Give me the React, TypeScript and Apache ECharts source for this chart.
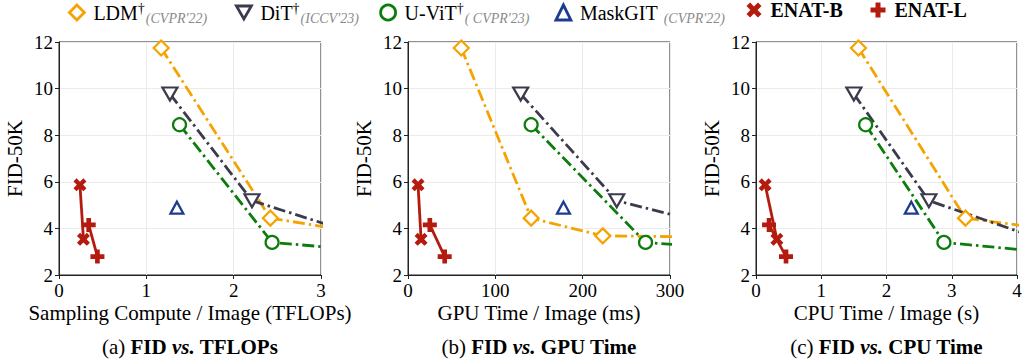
import React, { useEffect, useRef } from "react";
import * as echarts from "echarts";

// ---- data (FID-50K vs cost) ----
const ldmFid = [11.74, 4.44, 3.68, 3.6];
const ldmTflops = [1.17, 2.42, 3.69, 5.1];
const ldmGpuMs = [61, 141, 223, 420];
const ldmCpuS = [1.57, 3.21, 5.27, 6.9];

const ditFid = [9.77, 5.19, 2.27];
const ditTflops = [1.27, 2.21, 4.66];
const ditGpuMs = [129, 239, 547];
const ditCpuS = [1.5, 2.65, 5.68];

const uvitFid = [8.45, 3.4, 2.29];
const uvitTflops = [1.38, 2.44, 5.87];
const uvitGpuMs = [141, 272, 660];
const uvitCpuS = [1.68, 2.88, 7.03];

const maskgitFid = [4.89];
const maskgitTflops = [1.35];
const maskgitGpuMs = [178];
const maskgitCpuS = [2.38];

const enatBFid = [5.87, 3.53];
const enatBTflops = [0.24, 0.28];
const enatBGpuMs = [11.5, 15];
const enatBCpuS = [0.14, 0.32];

const enatLFid = [4.15, 2.79];
const enatLTflops = [0.34, 0.44];
const enatLGpuMs = [25, 42];
const enatLCpuS = [0.2, 0.46];

const xAxisNames = ["Sampling Compute / Image (TFLOPs)", "GPU Time / Image (ms)", "CPU Time / Image (s)"];
const xMax = [3, 300, 4];
const xInterval = [1, 100, 1];
const captionLetters = ["(a) ", "(b) ", "(c) "];
const captionTitles = ["TFLOPs", "GPU Time", "CPU Time"];

const FONT = "Liberation Serif";
const ORANGE = "#f5a300";
const DARK = "#3b3b4d";
const GREEN = "#0b7d0b";
const BLUE = "#1d3c8f";
const RED = "#b51a0e";

const PLUS = "path://M3.33,0H6.67V3.33H10V6.67H6.67V10H3.33V6.67H0V3.33H3.33Z";
const CROSS = "path://M0,2.4L2.4,0L5,2.6L7.6,0L10,2.4L7.4,5L10,7.6L7.6,10L5,7.4L2.4,10L0,7.6L2.6,5Z";
const DOWNTRI = "path://M0,0L10,0L5,8.66Z";

const grids = [
  { left: 59, top: 42, width: 262, height: 233 },
  { left: 408, top: 42, width: 262, height: 233 },
  { left: 756, top: 42, width: 261, height: 233 },
];

const zip = (xs: number[], ys: number[]) => xs.map((x, i) => [x, ys[i]]);

const dashDot = [12, 4, 2.5, 4];
const LW = 2.8;

function buildSeries() {
  const xs = [
    [ldmTflops, ditTflops, uvitTflops, maskgitTflops, enatBTflops, enatLTflops],
    [ldmGpuMs, ditGpuMs, uvitGpuMs, maskgitGpuMs, enatBGpuMs, enatLGpuMs],
    [ldmCpuS, ditCpuS, uvitCpuS, maskgitCpuS, enatBCpuS, enatLCpuS],
  ];
  const out: any[] = [];
  for (let p = 0; p < 3; p++) {
    const [ldm, dit, uvit, mg, eb, el] = xs[p];
    const common = { type: "line", xAxisIndex: p, yAxisIndex: p, clip: true, emphasis: { disabled: true } };
    out.push({
      ...common, name: "LDM", data: zip(ldm, ldmFid), symbol: "diamond", symbolSize: 15, z: 3,
      itemStyle: { color: "#fff", borderColor: ORANGE, borderWidth: 2.2 },
      lineStyle: { color: ORANGE, width: LW, type: dashDot },
    });
    out.push({
      ...common, name: "DiT", data: zip(dit, ditFid), symbol: DOWNTRI, symbolSize: [15, 13], z: 3,
      itemStyle: { color: "#fff", borderColor: DARK, borderWidth: 2.2 },
      lineStyle: { color: DARK, width: LW, type: dashDot },
    });
    out.push({
      ...common, name: "U-ViT", data: zip(uvit, uvitFid), symbol: "circle", symbolSize: 13, z: 3,
      itemStyle: { color: "#fff", borderColor: GREEN, borderWidth: 2.2 },
      lineStyle: { color: GREEN, width: LW, type: dashDot },
    });
    out.push({
      ...common, name: "MaskGIT", data: zip(mg, maskgitFid), symbol: "triangle", symbolSize: [13, 12], z: 3,
      itemStyle: { color: "#fff", borderColor: BLUE, borderWidth: 2.2 },
      lineStyle: { color: BLUE, width: 2 },
    });
    out.push({
      ...common, name: "ENAT-B", data: zip(eb, enatBFid), symbol: CROSS, symbolSize: 13, z: 4,
      itemStyle: { color: RED },
      lineStyle: { color: RED, width: LW },
    });
    out.push({
      ...common, name: "ENAT-L", data: zip(el, enatLFid), symbol: PLUS, symbolSize: 14, z: 4,
      itemStyle: { color: RED },
      lineStyle: { color: RED, width: LW },
    });
  }
  return out;
}

const richLegend = {
  m: { fontSize: 20, fontFamily: FONT, color: "#000", padding: [0, 0, 0, 4], lineHeight: 22 },
  s: { fontSize: 14, fontFamily: FONT, color: "#000", padding: [0, 0, 8, 0], lineHeight: 14 },
  c: { fontSize: 14, fontFamily: FONT, fontStyle: "italic", color: "#8a8a8a", padding: [11, 0, 0, 1], lineHeight: 14 },
  b: { fontSize: 20, fontFamily: FONT, fontWeight: "bold", color: "#000", padding: [0, 0, 0, 4], lineHeight: 22 },
};

const legendItems = [
  { name: "LDM", icon: "diamond", cx: 75.5, style: { color: "#fff", borderColor: ORANGE, borderWidth: 2.8 }, label: "{m|LDM}{s|†}{c|(CVPR'22)}" },
  { name: "DiT", icon: DOWNTRI, cx: 242.5, style: { color: "#fff", borderColor: DARK, borderWidth: 2.8 }, label: "{m|DiT}{s|†}{c|(ICCV'23)}" },
  { name: "U-ViT", icon: "circle", cx: 386.7, style: { color: "#fff", borderColor: GREEN, borderWidth: 2.8 }, label: "{m|U-ViT}{s|†}{c|( CVPR'23)}" },
  { name: "MaskGIT", icon: "triangle", cx: 562, style: { color: "#fff", borderColor: BLUE, borderWidth: 2.8 }, label: "{m|MaskGIT }{c|(CVPR'22)}" },
  { name: "ENAT-B", icon: CROSS, cx: 754, style: { color: RED }, label: "{b|ENAT-B}" },
  { name: "ENAT-L", icon: PLUS, cx: 878, style: { color: RED }, label: "{b|ENAT-L}" },
];

export default function App() {
  const ref = useRef<HTMLDivElement>(null);
  useEffect(() => {
    if (!ref.current) return;
    const chart = echarts.init(ref.current, undefined, { renderer: "svg" });
    const tickText = { fontFamily: FONT, fontSize: 19, color: "#000" };
    const nameText = { fontFamily: FONT, fontSize: 21, color: "#000" };
    const option: any = {
      animation: false,
      backgroundColor: "#fff",
      textStyle: { fontFamily: FONT },
      legend: legendItems.map((it) => ({
        data: [{ name: it.name, icon: it.icon, itemStyle: it.style }],
        left: it.cx - 7.5,
        top: 0,
        itemWidth: 15,
        itemHeight: 15,
        padding: 0,
        selectedMode: false,
        formatter: () => it.label,
        textStyle: { rich: richLegend },
      })),
      grid: grids.map((g) => ({ ...g, show: true, borderColor: "#222", borderWidth: 1, containLabel: false })),
      xAxis: grids.map((_, i) => ({
        type: "value",
        gridIndex: i,
        min: 0,
        max: xMax[i],
        interval: xInterval[i],
        name: xAxisNames[i],
        nameLocation: "middle",
        nameGap: 27,
        nameMoveOverlap: false,
        nameTextStyle: nameText,
        axisLine: { show: true, onZero: false, lineStyle: { color: "#222", width: 1 } },
        axisTick: { show: true, inside: false, length: 4, lineStyle: { color: "#222" } },
        axisLabel: { ...tickText, margin: 6 },
        splitLine: { show: true, lineStyle: { color: "#ebebeb", width: 1 } },
      })),
      yAxis: grids.map((_, i) => ({
        type: "value",
        gridIndex: i,
        min: 2,
        max: 12,
        interval: 2,
        name: "FID-50K",
        nameLocation: "middle",
        nameGap: 34,
        nameMoveOverlap: false,
        nameTextStyle: nameText,
        axisLine: { show: true, lineStyle: { color: "#222", width: 1 } },
        axisTick: { show: true, inside: false, length: 4, lineStyle: { color: "#222" } },
        axisLabel: { ...tickText, margin: 6 },
        splitLine: { show: true, lineStyle: { color: "#ebebeb", width: 1 } },
      })),
      series: buildSeries(),
      graphic: grids.map((g, i) => ({
        type: "text",
        x: g.left + g.width / 2,
        y: 347,
        style: {
          text: `{n|${captionLetters[i]}}{b|FID }{i|vs.}{b| ${captionTitles[i]}}`,
          textAlign: "center",
          textVerticalAlign: "middle",
          rich: {
            n: { fontFamily: FONT, fontSize: 21, fill: "#000" },
            b: { fontFamily: FONT, fontSize: 21, fontWeight: "bold", fill: "#000" },
            i: { fontFamily: FONT, fontSize: 21, fontWeight: "bold", fontStyle: "italic", fill: "#000" },
          },
        },
      })),
    };
    chart.setOption(option);
    return () => chart.dispose();
  }, []);
  return (
    <div
      ref={ref}
      style={{ position: "absolute", left: 0, top: 0, width: 1025, height: 362, background: "#fff" }}
    />
  );
}
